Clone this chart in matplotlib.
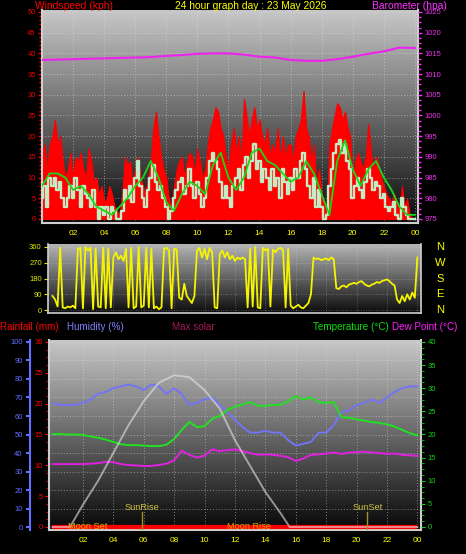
import numpy as np
import matplotlib
matplotlib.use('Agg')
import matplotlib.pyplot as plt
import matplotlib.transforms as mtransforms
from matplotlib.ticker import MultipleLocator

plt.rcParams['font.family'] = ['Liberation Sans', 'DejaVu Sans']

# ---------------- data ----------------
# wind, 10 minute samples 00:00 .. 24:00
gust_kph = [16, 18, 12, 18, 20, 24,  18, 20, 14, 10, 12, 16,  10, 15, 14, 16, 12, 10,
            17, 14, 9, 10, 6, 8,  4, 5, 8, 6, 3, 2,  1, 6, 15, 13, 14, 8,
            12, 15, 10, 8, 6, 10,  14, 22, 26, 20, 15, 12,  10, 5, 3, 8, 12, 14,
            15, 10, 14, 16, 15, 11,  17, 14, 10, 12, 18, 22,  24, 27, 26, 22, 20, 15,
            12, 18, 22, 16, 20, 14,  29, 25, 20, 24, 27, 22,  24, 20, 18, 22, 15, 18,
            16, 22, 14, 20, 15, 18,  18, 14, 20, 22, 24, 31,  22, 20, 14, 18, 8, 12,
            6, 4, 2, 18, 22, 25,  28, 27, 24, 26, 22, 20,  10, 14, 16, 14, 12, 15,
            23, 16, 12, 15, 13, 10,  8, 6, 5, 4, 6, 4,  2, 8, 3, 5, 1, 0,  0]
speed_kph = [5, 8, 3, 10, 8, 10,  7, 9, 5, 3, 5, 8,  5, 10, 7, 3, 8, 6,
             5, 3, 7, 3, 0, 3,  1, 3, 0, 3, 2, 0,  0, 2, 7, 5, 8, 4,
             10, 14, 8, 5, 3, 7,  10, 13, 9, 7, 8, 5,  3, 0, 2, 5, 7, 9,
             10, 6, 8, 12, 8, 5,  9, 6, 3, 5, 10, 14,  16, 14, 12, 9, 5, 8,
             5, 3, 8, 10, 12, 7,  13, 15, 10, 14, 18, 12,  14, 9, 12, 10, 7, 12,
             8, 10, 5, 12, 9, 6,  10, 7, 12, 10, 14, 16,  12, 8, 5, 10, 3, 7,
             3, 0, 1, 8, 12, 16,  18, 19, 16, 18, 14, 12,  5, 8, 10, 7, 5, 9,
             12, 10, 7, 9, 8, 5,  6, 3, 2, 3, 4, 1,  0, 5, 3, 1, 0, 0,  0]
# average wind, 30 minute samples
avg_kph = [8, 11, 11, 10, 7, 8, 6, 3, 2, 1, 3, 5, 8, 10, 14, 10, 4, 2, 6, 9,
           8, 6, 13, 16, 10, 7, 10, 16, 17, 14, 13, 11, 9, 10, 14, 11, 6, 1, 14, 19,
           12, 8, 12, 14, 10, 7, 3, 1, 1]
# barometer, hourly
baro_hpa = [1013.4, 1013.5, 1013.6, 1013.7, 1013.8, 1013.9, 1014.0, 1014.1, 1014.4,
            1014.6, 1014.9, 1015.0, 1015.0, 1014.7, 1014.2, 1014.0, 1013.4, 1013.2,
            1013.2, 1013.6, 1014.2, 1014.9, 1015.5, 1016.4, 1016.3]
# wind direction, 10 minute samples
wind_dir = [80, 60, 20, 355, 15, 10,  20, 15, 25, 10, 350, 355,  10, 360, 340, 355, 5, 350,
            20, 15, 355, 10, 350, 15,  300, 330, 290, 310, 280, 350,  15, 355, 10, 20, 360, 15,
            25, 355, 15, 350, 10, 20,  5, 15, 350, 355, 340, 10,  350, 345, 70, 60, 150, 80,
            60, 40, 80, 340, 355, 300,  350, 290, 355, 330, 15, 10,  320, 340, 300, 330, 290, 310,
            280, 300, 290, 300, 290, 15,  350, 20, 360, 15, 10, 355,  340, 350, 20, 345, 330, 350,
            355, 340, 15, 350, 25, 10,  20, 30, 15, 10, 25, 40,  90, 300, 290, 295, 285, 290,
            295, 285, 300, 290, 125, 120,  135, 140, 130, 145, 150, 155,  150, 160, 165, 150, 140, 135,
            145, 150, 160, 155, 165, 170,  175, 165, 150, 140, 60, 40,  80, 50, 90, 60, 100, 70,  300]
# temperature / humidity, 30 minute samples
humidity = [67, 66, 66, 66, 67, 69, 72, 73, 75, 76,
            77, 76, 74, 77, 76, 72, 75, 72, 66, 67,
            69, 70, 66, 62, 58, 54, 51, 51, 52, 51,
            51, 47, 44, 45, 46, 51, 51, 55, 62, 63,
            66, 67, 69, 67, 70, 73, 75, 76, 76]
temp_c = [20.1, 20.1, 20.0, 20.0, 19.9, 19.6, 19.3, 18.9, 18.4, 17.9,
          17.7, 17.7, 17.6, 17.5, 17.5, 17.8, 19.0, 21.0, 22.7, 21.6,
          21.8, 23.4, 24.0, 25.3, 26.0, 26.5, 27.0, 26.2, 26.2, 26.4,
          26.4, 27.2, 28.3, 27.6, 28.0, 27.0, 26.8, 27.0, 23.8, 23.6,
          23.3, 23.0, 22.7, 22.5, 22.2, 21.7, 21.0, 20.3, 19.8]
dew_c = [13.6, 13.6, 13.6, 13.6, 13.6, 13.7, 13.8, 14.1, 14.0, 13.6,
         13.4, 13.3, 13.2, 13.2, 13.4, 13.7, 14.4, 16.5, 15.6, 15.0,
         15.4, 16.8, 16.4, 16.6, 16.8, 16.4, 16.0, 15.6, 15.7, 15.6,
         15.4, 15.1, 14.3, 14.8, 15.6, 15.7, 15.9, 16.1, 15.8, 16.1,
         16.2, 16.3, 16.1, 16.0, 15.8, 15.9, 15.6, 15.5, 15.4]
solar_hours = [0, 1.15, 2, 3, 4, 5, 6, 7, 8, 9, 10, 11, 12, 13, 14, 15, 15.6, 24]
solar_wm2 = [0, 0, 120, 250, 400, 550, 680, 780, 820, 810, 740, 640, 470, 330, 190, 75, 0, 0]
rain_hours = [0, 24]
rain_mm = [0.0, 0.0]

hour_ticks = [2, 4, 6, 8, 10, 12, 14, 16, 18, 20, 22, 24]
hour_labels = ['02', '04', '06', '08', '10', '12', '14', '16', '18', '20', '22', '00']
moon_set, sun_rise, moon_rise, sun_set = 1.0, 5.9, 11.5, 20.7

t10 = np.arange(len(gust_kph)) / 6.0
t30 = np.arange(len(humidity)) / 2.0
t60 = np.arange(len(baro_hpa))

EDGE = '#cfcfcf'
YEL = '#ffff00'


def shade(ax, top, bottom):
    grad = np.linspace(top, bottom, 256).reshape(-1, 1)
    ax.imshow(grad, cmap='gray', vmin=0, vmax=1, aspect='auto',
              extent=[0, 1, 0, 1], transform=ax.transAxes, zorder=0)


def hide_spines(ax):
    for s in ax.spines.values():
        s.set_visible(False)


fig = plt.figure(figsize=(4.66, 5.54), dpi=100, facecolor='black')

# ---------------- wind speed / barometer ----------------
ax1 = fig.add_axes([42 / 466, 1 - 223 / 554, 376 / 466, 213 / 554])
shade(ax1, 0.78, 0.04)
ax1.set_xlim(0, 24.2)
ax1.set_ylim(-0.97, 50.48)
ax1.fill_between(t10, 0, gust_kph, color='#ff0000', lw=0.8, edgecolor='#ff0000', zorder=2)
ax1.plot(t10, speed_kph, drawstyle='steps-mid', color='#c4ecc4', lw=1.7, zorder=3)
ax1.plot(t30, avg_kph, color='#18d818', lw=1.3, zorder=4)
ax1.set_axisbelow(True)
ax1.grid(True, color='#e0e0e0', linestyle=(0, (1, 2)), linewidth=0.7, alpha=0.55)
ax1.yaxis.set_major_locator(MultipleLocator(5))
ax1.yaxis.set_minor_locator(MultipleLocator(1))
ax1.tick_params(axis='y', which='both', colors='#ee0000', labelsize=5.5, pad=1.5)
ax1.tick_params(axis='y', which='major', length=3, width=1)
ax1.tick_params(axis='y', which='minor', length=2, width=1)
ax1.set_xticks(hour_ticks)
ax1.set_xticklabels(hour_labels)
ax1.tick_params(axis='x', colors=YEL, labelsize=6, length=0, pad=5)
for s in ['left', 'bottom', 'right', 'top']:
    ax1.spines[s].set_color(EDGE)
    ax1.spines[s].set_linewidth(1.5)
ax1.spines['top'].set_visible(False)

ax1b = ax1.twinx()
hide_spines(ax1b)
ax1b.set_ylim(974.03, 1025.48)
ax1b.plot(t60, baro_hpa, color='#ee22ee', lw=1.5, zorder=5)
ax1b.yaxis.set_major_locator(MultipleLocator(5))
ax1b.yaxis.set_minor_locator(MultipleLocator(1.25))
ax1b.tick_params(axis='y', which='both', colors='#ee33ee', labelsize=5.5, pad=2)
ax1b.tick_params(axis='y', which='major', length=3, width=1)
ax1b.tick_params(axis='y', which='minor', length=2, width=1)

fig.text(35 / 466, 1 - 6 / 554, 'Windspeed (kph)', color='#ff0000', fontsize=7.4, va='center')
fig.text(251 / 466, 1 - 6 / 554, '24 hour graph day : 23 May 2026', color=YEL,
         fontsize=7.4, va='center', ha='center')
fig.text(447 / 466, 1 - 6 / 554, 'Barometer (hpa)', color='#ff33ff', fontsize=7.4,
         va='center', ha='right')

# ---------------- wind direction ----------------
ax2 = fig.add_axes([48 / 466, 1 - 313 / 554, 373 / 466, 69 / 554])
shade(ax2, 0.72, 0.05)
ax2.set_xlim(-0.3, 24.24)
ax2.set_ylim(-17, 377)
ax2.plot(t10, wind_dir, color='#f4f400', lw=1.3, zorder=3)
ax2.set_yticks([0, 90, 180, 270, 360])
ax2.set_xticks(hour_ticks)
ax2.set_axisbelow(True)
ax2.grid(True, color='#e0e0e0', linestyle=(0, (1, 2)), linewidth=0.6, alpha=0.4)
ax2.tick_params(axis='y', colors='#e8e800', labelsize=5.5, length=3, pad=1.5)
ax2.tick_params(axis='x', length=0, labelbottom=False)
for s in ax2.spines.values():
    s.set_color(EDGE)
    s.set_linewidth(1.2)
ax2.spines['top'].set_visible(False)
compass = mtransforms.blended_transform_factory(ax2.transAxes, ax2.transData)
for deg, letter in zip([360, 270, 180, 90, 0], ['N', 'W', 'S', 'E', 'N']):
    ax2.text(1.051, deg, letter, transform=compass, color=YEL, fontsize=8,
             ha='center', va='center', clip_on=False)

# ---------------- temperature / humidity ----------------
ax3 = fig.add_axes([49 / 466, 1 - 530 / 554, 372 / 466, 190 / 554])
shade(ax3, 0.78, 0.03)
ax3.set_xlim(-0.23, 24.24)
ax3.set_ylim(-1.62, 101.08)
ax3.plot(t30, humidity, color='#7474f4', lw=1.4, zorder=3)
ax3.yaxis.set_major_locator(MultipleLocator(10))
ax3.set_axisbelow(True)
ax3.grid(True, color='#e0e0e0', linestyle=(0, (1, 2)), linewidth=0.7, alpha=0.5)
ax3.tick_params(axis='y', colors='#6070ff', labelsize=5.5, length=3, width=1.5, pad=2)
ax3.set_xticks(hour_ticks)
ax3.set_xticklabels(hour_labels)
ax3.tick_params(axis='x', colors=YEL, labelsize=6, length=0, pad=5)
ax3.spines['left'].set_position(('outward', 14))
ax3.spines['left'].set_color('#6070ff')
ax3.spines['left'].set_linewidth(1.5)
ax3.spines['bottom'].set_color(EDGE)
ax3.spines['bottom'].set_linewidth(1.5)
ax3.spines['right'].set_color(EDGE)
ax3.spines['right'].set_linewidth(1.5)
ax3.spines['top'].set_visible(False)

axr = ax3.twinx()
hide_spines(axr)
axr.spines['left'].set_visible(True)
axr.spines['left'].set_color(EDGE)
axr.spines['left'].set_linewidth(1.5)
axr.yaxis.tick_left()
axr.set_ylim(-0.49, 30.32)
axr.yaxis.set_major_locator(MultipleLocator(5))
axr.yaxis.set_minor_locator(MultipleLocator(1.25))
axr.tick_params(axis='y', which='both', colors='#ff0000', labelsize=5.5, pad=1.5)
axr.tick_params(axis='y', which='major', length=3)
axr.tick_params(axis='y', which='minor', length=2)
axr.plot(rain_hours, rain_mm, color='#ff0000', lw=3, zorder=3, solid_capstyle='butt')

axt = ax3.twinx()
hide_spines(axt)
axt.set_ylim(-0.65, 40.43)
axt.plot(t30, temp_c, color='#22e022', lw=1.4, zorder=3)
axt.plot(t30, dew_c, color='#e022e0', lw=1.4, zorder=3)
axt.yaxis.set_major_locator(MultipleLocator(5))
axt.yaxis.set_minor_locator(MultipleLocator(1.25))
axt.tick_params(axis='y', which='both', colors='#10d010', labelsize=5.5, pad=2)
axt.tick_params(axis='y', which='major', length=3)
axt.tick_params(axis='y', which='minor', length=2)

axs = ax3.twinx()
hide_spines(axs)
axs.set_ylim(-16.2, 1010.8)
axs.set_yticks([])
axs.plot(solar_hours, solar_wm2, color='#e4e4e4', lw=1.4, alpha=0.6, zorder=4)

low = mtransforms.blended_transform_factory(axs.transData, axs.transAxes)
for h in [sun_rise, sun_set]:
    axs.plot([h, h], [0, 0.095], transform=low, color='#a09028', lw=1, zorder=5)
axs.text(sun_rise, 0.12, 'SunRise', transform=low, color='#d0c040', fontsize=6.6,
         ha='center', va='center', zorder=6)
axs.text(sun_set, 0.12, 'SunSet', transform=low, color='#d0c040', fontsize=6.6,
         ha='center', va='center', zorder=6)
axs.text(moon_set, 0.02, 'Moon Set', transform=low, color='#d8b800', fontsize=6.6,
         ha='left', va='center', zorder=6)
axs.text(moon_rise, 0.02, 'Moon Rise', transform=low, color='#e0a000', fontsize=6.6,
         ha='left', va='center', zorder=6)

hy = 1 - 327 / 554
fig.text(0 / 466, hy, 'Rainfall (mm)', color='#ff0000', fontsize=7.1, va='center')
fig.text(67 / 466, hy, 'Humidity (%)', color='#8080ff', fontsize=7.1, va='center')
fig.text(172 / 466, hy, 'Max solar', color='#a8185a', fontsize=7.1, va='center')
fig.text(313 / 466, hy, 'Temperature (°C)', color='#10e010', fontsize=7.1, va='center')
fig.text(392 / 466, hy, 'Dew Point (°C)', color='#ff22ff', fontsize=7.1, va='center')

fig.savefig('out.png', dpi=100, facecolor='black')
